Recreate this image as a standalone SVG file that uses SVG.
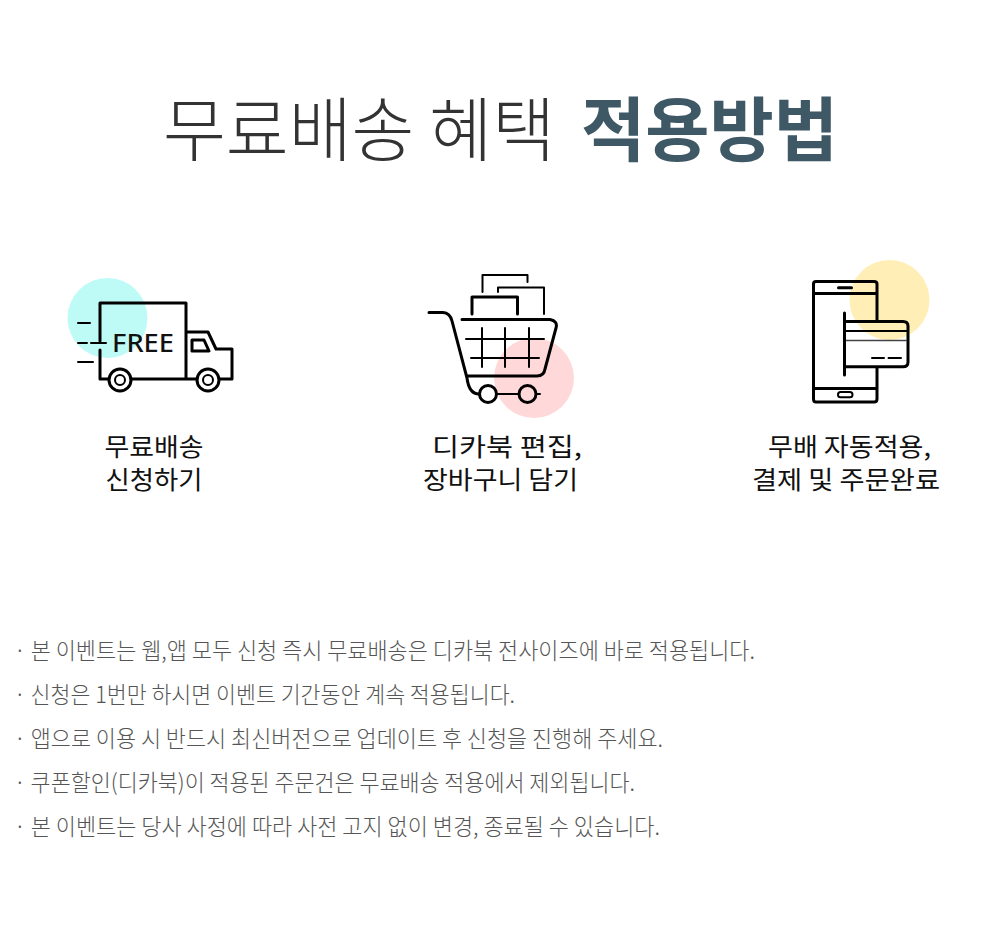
<svg xmlns="http://www.w3.org/2000/svg" width="1000" height="936" viewBox="0 0 1000 936">
<style>
text{font-family:"Noto Sans CJK KR","Noto Sans",sans-serif}
.t{font-size:70px;font-weight:300;fill:#333}
.b{font-size:70px;font-weight:700;fill:#3f5866}
.l{font-size:25px;font-weight:400;fill:#111}
.n{font-size:23px;font-weight:300;fill:#555}
.s3,.s2{fill:none;stroke:#000;stroke-linecap:round;stroke-linejoin:round}
.s3{stroke-width:3}
.s2{stroke-width:2}
</style>
<rect width="1000" height="936" fill="#fff"/>
<g id="title">
<text class="t" x="163" y="156" textLength="392" lengthAdjust="spacingAndGlyphs">무료배송 혜택</text>
<text class="b" x="581" y="156" textLength="257" lengthAdjust="spacingAndGlyphs">적용방법</text>
</g>
<g id="step1">
<circle cx="107.500" cy="318" r="40" fill="#bffbf6"/>
<path class="s3" d="M100 341V303H186V379M100 350V379H108M131 379H197M186 332H208L216 349H232V379H220"/>
<path class="s3" d="M192 340H204L209 351H192Z"/>
<path class="s2" d="M78 323H90M78 343H87M91 343H106M78 362H93"/>
<circle class="s3" cx="120" cy="380" r="11" fill="#fff"/><circle class="s2" cx="120" cy="380" r="5"/>
<circle class="s3" cx="208" cy="380" r="11" fill="#fff"/><circle class="s2" cx="208" cy="380" r="5"/>
<text x="112" y="352" textLength="62" lengthAdjust="spacingAndGlyphs" style="font-family:'Noto Sans',sans-serif;font-size:25px;font-weight:500;fill:#111">FREE</text>
<text class="l" x="154" y="456" text-anchor="middle" textLength="99" lengthAdjust="spacingAndGlyphs">무료배송</text>
<text class="l" x="154" y="489" text-anchor="middle" textLength="97" lengthAdjust="spacingAndGlyphs">신청하기</text>
</g>
<g id="step2">
<circle cx="534" cy="378" r="40" fill="#ffd9d9"/>
<path class="s2" d="M466 339H544M471 358H539M482 328V367M505 328V367M529 328V367"/>
<path class="s3" d="M429 312.500H443Q450 313 452 321L467 378Q469 394 479 394M462 319.500H550Q558 321 556 328L545 369Q544 376 537 376H467M472 314V297H517.500V314"/>
<path class="s2" d="M498 292V287.500H544V314M482.500 292V275H527.500V282"/>
<path class="s2" d="M497 394H518M536 394H540"/>
<circle class="s3" cx="488" cy="394" r="8.500" fill="#fff"/>
<circle class="s3" cx="527.500" cy="394" r="8.500"/>
<text class="l" x="507" y="456" text-anchor="middle" textLength="150" lengthAdjust="spacingAndGlyphs">디카북 편집,</text>
<text class="l" x="500.500" y="489" text-anchor="middle" textLength="155" lengthAdjust="spacingAndGlyphs">장바구니 담기</text>
</g>
<g id="step3">
<circle cx="889.500" cy="300" r="40" fill="#ffeeb5"/>
<path class="s3" d="M877 320V284Q877 281.500 874 281.500H816Q813.500 281.500 813.500 284V399Q813.500 402 816 402H874Q877 402 877 399V367M814 293.500H876M814 388.500H876M838.500 287.800H851.500M844.500 313V375M845 321.500H903Q908 321.500 908 326V362Q908 366.800 903 366.800H845"/>
<path class="s2" d="M846 331H907M872 358H884M888.500 358H901"/>
<path d="M846 340.500H907" fill="none" stroke="#444" stroke-width="1.500"/>
<rect class="s2" x="838" y="392" width="14.500" height="5.300" rx="2.600"/>
<text class="l" x="849.500" y="456" text-anchor="middle" textLength="163" lengthAdjust="spacingAndGlyphs">무배 자동적용,</text>
<text class="l" x="846" y="489" text-anchor="middle" textLength="188" lengthAdjust="spacingAndGlyphs">결제 및 주문완료</text>
</g>
<g id="notes">
<text class="n" x="14" y="659" textLength="741" lengthAdjust="spacingAndGlyphs">· 본 이벤트는 웹,앱 모두 신청 즉시 무료배송은 디카북 전사이즈에 바로 적용됩니다.</text>
<text class="n" x="14" y="703" textLength="501" lengthAdjust="spacingAndGlyphs">· 신청은 1번만 하시면 이벤트 기간동안 계속 적용됩니다.</text>
<text class="n" x="14" y="747" textLength="649" lengthAdjust="spacingAndGlyphs">· 앱으로 이용 시 반드시 최신버전으로 업데이트 후 신청을 진행해 주세요.</text>
<text class="n" x="14" y="791" textLength="621" lengthAdjust="spacingAndGlyphs">· 쿠폰할인(디카북)이 적용된 주문건은 무료배송 적용에서 제외됩니다.</text>
<text class="n" x="14" y="835" textLength="646" lengthAdjust="spacingAndGlyphs">· 본 이벤트는 당사 사정에 따라 사전 고지 없이 변경, 종료될 수 있습니다.</text>
</g>
</svg>
